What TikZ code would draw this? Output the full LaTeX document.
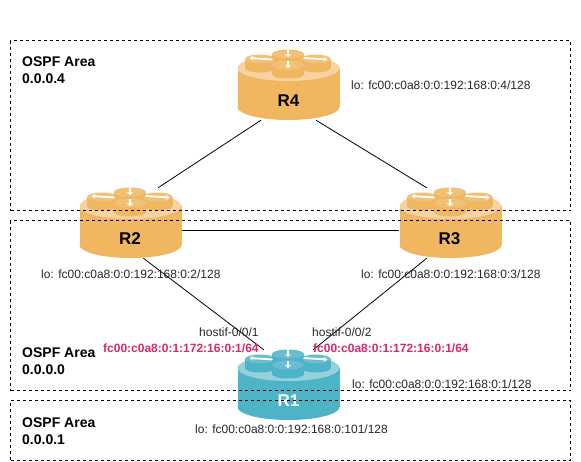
\documentclass[tikz,border=0pt]{standalone}
\usepackage{fontspec}
\usetikzlibrary{arrows.meta}
\setmainfont{Liberation Sans}
\definecolor{routerorange}{HTML}{F0B660}
\definecolor{routerteal}{HTML}{4DB3C6}
\definecolor{ifpink}{HTML}{D6286C}
\tikzset{
  router/.pic={
    \fill[#1] (0,22) ellipse [x radius=51, y radius=13];
    \fill[#1] (-51,-17) rectangle (51,22);
    \fill[#1!60!white] (0,-17) ellipse [x radius=51, y radius=13];
    % four pucks, back to front
    \foreach \px/\py/\pw in {-28.5/-26/15, 27.5/-26/14.5, -0.5/-31/16, -0.5/-20/16} {
      \fill[#1] (\px,\py+9) ellipse [x radius=\pw, y radius=4.5];
      \fill[#1] (\px-\pw,\py) rectangle (\px+\pw,\py+9);
      \fill[#1!85!white] (\px,\py) ellipse [x radius=\pw, y radius=4.5];
    }
    \draw[white, line width=1.8pt, {Stealth[length=4pt,width=5pt]}-] (-39,-27) -- (-16,-25.5);
    \draw[white, line width=1.8pt, -{Stealth[length=4pt,width=5pt]}] (15,-27) -- (39,-25.5);
    \draw[white, line width=1.8pt, -{Stealth[length=3pt,width=6pt]}] (-0.5,-35) -- (-0.5,-28);
    \draw[white, line width=1.8pt, -{Stealth[length=3pt,width=6pt]}] (-0.5,-24) -- (-0.5,-17);
  },
  routerbox/.style={rectangle, minimum width=102pt, minimum height=70pt, inner sep=0pt},
  routername/.style={font=\fontsize{17}{19}\selectfont\bfseries},
  area/.style={draw, dashed, line width=0.8pt, minimum width=560pt, inner sep=0pt},
  arealabel/.style={anchor=west, inner sep=0pt, align=left, font=\fontsize{14}{17}\selectfont\bfseries},
  addr/.style={anchor=west, inner sep=0pt, font=\fontsize{12}{14}\selectfont, text=black!85},
  ifaddr/.style={anchor=west, inner sep=0pt, font=\fontsize{12}{14}\selectfont\bfseries, text=ifpink},
  link/.style={line width=0.8pt}
}
\begin{document}
\begin{tikzpicture}[x=1pt, y=-1pt]
\useasboundingbox (0,0) rectangle (581,461);

\pic at (288.5,85) {router=routerorange};
\pic at (130.5,223) {router=routerorange};
\pic at (450.5,223) {router=routerorange};
\pic at (288.5,385) {router=routerteal};

\node[routerbox] (R4) at (288.5,85) {};
\node[routerbox] (R2) at (130.5,223) {};
\node[routerbox] (R3) at (450.5,223) {};
\node[routerbox] (R1) at (288.5,385) {};

\node[routername] (R4name) at (288.5,101) {R4};
\node[routername] (R2name) at (130,239) {R2};
\node[routername] (R3name) at (449.5,239) {R3};
\node[routername, text=white] (R1name) at (288.5,401) {R1};

\node[area, minimum height=170pt] (area4) at (290.5,125.5) {};
\node[area, minimum height=170pt] (area0) at (290.5,305.5) {};
\node[area, minimum height=59.5pt] (area1) at (290.5,430.25) {};

\draw[link] (R4.232) -- (R2.52);
\draw[link] (R4.-52) -- (R3.124);
\draw[link] (R2.-8) -- (R3.188);
\draw[link] (R2.-70) -- (R1.125);
\draw[link] (R3.-124) -- (R1.55);

\node[arealabel] (area4label) at (22,70) {OSPF Area\\0.0.0.4};
\node[arealabel] (area0label) at (22,361) {OSPF Area\\0.0.0.0};
\node[arealabel] (area1label) at (22,431) {OSPF Area\\0.0.0.1};

\node[addr] (lo4) at (351,85) {lo: fc00:c0a8:0:0:192:168:0:4/128};
\node[addr] (lo2) at (41,274) {lo: fc00:c0a8:0:0:192:168:0:2/128};
\node[addr] (lo3) at (361,274) {lo: fc00:c0a8:0:0:192:168:0:3/128};
\node[addr] (lo1) at (352,384) {lo: fc00:c0a8:0:0:192:168:0:1/128};
\node[addr] (lo101) at (195,429) {lo: fc00:c0a8:0:0:192:168:0:101/128};

\node[addr] (hostif1) at (199,332) {hostif-0/0/1};
\node[addr] (hostif2) at (312,332) {hostif-0/0/2};
\node[ifaddr] (ifaddr1) at (103,348) {fc00:c0a8:0:1:172:16:0:1/64};
\node[ifaddr] (ifaddr2) at (313,348) {fc00:c0a8:0:1:172:16:0:1/64};
\end{tikzpicture}
\end{document}
